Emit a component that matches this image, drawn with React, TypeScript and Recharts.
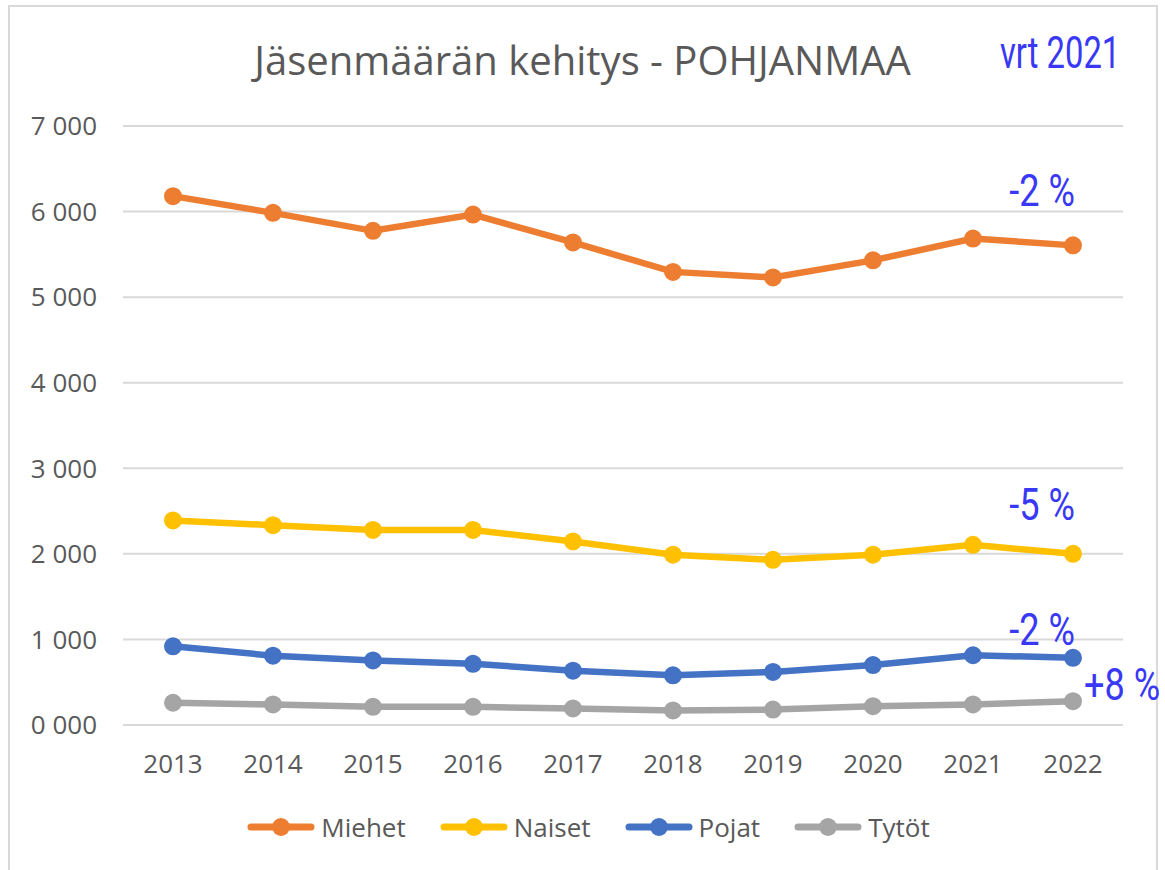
import React from "react";
import { LineChart, Line, XAxis, YAxis, CartesianGrid, Legend, LabelList } from "recharts";

const YEARS = ["2013", "2014", "2015", "2016", "2017", "2018", "2019", "2020", "2021", "2022"];
const MIEHET = [6180, 5985, 5775, 5965, 5640, 5295, 5230, 5430, 5685, 5605];
const NAISET = [2390, 2335, 2280, 2280, 2145, 1990, 1930, 1990, 2105, 2000];
const POJAT = [920, 810, 755, 715, 635, 580, 620, 700, 815, 785];
const TYTOT = [260, 240, 212, 212, 193, 170, 180, 220, 240, 278];
const Y_TICKS = [0, 1000, 2000, 3000, 4000, 5000, 6000, 7000];
const CHANGES = ["-2 %", "-5 %", "-2 %", "+8 %"];

const SERIES = [
  { key: "miehet", name: "Miehet", color: "#ED7D31", values: MIEHET, change: CHANGES[0], dx: -31, dy: -39 },
  { key: "naiset", name: "Naiset", color: "#FFC000", values: NAISET, change: CHANGES[1], dx: -31, dy: -34 },
  { key: "pojat", name: "Pojat", color: "#4472C4", values: POJAT, change: CHANGES[2], dx: -31, dy: -13 },
  { key: "tytot", name: "Tytöt", color: "#A5A5A5", values: TYTOT, change: CHANGES[3], dx: 49, dy: -1 },
];

const data = YEARS.map((year, i) => {
  const row: Record<string, string | number> = { year };
  SERIES.forEach((s) => {
    row[s.key] = s.values[i];
  });
  return row;
});

const TEXT = "#595959";
const BLUE = "#3838F5";
const FONT = "'Open Sans', sans-serif";

const formatThousands = (v: number) =>
  `${Math.floor(v / 1000)} ${String(v % 1000).padStart(3, "0")}`;

function ChangeLabel(props: any) {
  const { x, y, index, text, dx, dy } = props;
  if (index !== YEARS.length - 1) return null;
  return (
    <text
      transform={`translate(${x + dx},${y + dy}) scale(0.86,1.05)`}
      textAnchor="middle"
      fill={BLUE}
      fontFamily="Roboto, sans-serif"
      fontSize={42}
    >
      {text}
    </text>
  );
}

function LegendContent() {
  return (
    <div style={{ display: "flex", justifyContent: "center", alignItems: "center", gap: 34, paddingLeft: 12 }}>
      {SERIES.map((s) => (
        <div key={s.key} style={{ display: "flex", alignItems: "center" }}>
          <svg width={68} height={22} style={{ marginRight: 6 }}>
            <line x1={4} y1={11} x2={64} y2={11} stroke={s.color} strokeWidth={7} strokeLinecap="round" />
            <circle cx={34} cy={11} r={9} fill={s.color} />
          </svg>
          <span style={{ fontFamily: FONT, fontSize: 26, color: TEXT }}>{s.name}</span>
        </div>
      ))}
    </div>
  );
}

export default function App() {
  return (
    <div style={{ position: "absolute", left: 0, top: 0, width: 1165, height: 870, background: "#fff", overflow: "hidden" }}>
      <div
        style={{
          position: "absolute",
          left: 8,
          top: 5,
          width: 1150,
          height: 900,
          border: "2px solid #d9d9d9",
          boxSizing: "border-box",
        }}
      />
      <div
        style={{
          position: "absolute",
          top: 32,
          left: 0,
          width: 1165,
          textAlign: "center",
          fontFamily: FONT,
          fontSize: 40,
          color: TEXT,
          lineHeight: "56px",
          paddingRight: 2,
        }}
      >
        Jäsenmäärän kehitys - POHJANMAA
      </div>
      <div
        style={{
          position: "absolute",
          top: 27,
          left: 1000,
          fontFamily: "Roboto, sans-serif",
          fontSize: 42,
          color: BLUE,
          lineHeight: "50px",
          transform: "scale(0.78,1.05)",
          transformOrigin: "left top",
          whiteSpace: "nowrap",
        }}
      >
        vrt 2021
      </div>
      <div style={{ position: "absolute", left: 0, top: 0 }}>
        <LineChart width={1165} height={870} data={data} margin={{ top: 126, right: 42, bottom: 115, left: 0 }}>
          <CartesianGrid vertical={false} stroke="#d9d9d9" strokeWidth={2} />
          <XAxis
            dataKey="year"
            height={30}
            axisLine={false}
            tickLine={false}
            tickSize={0}
            tickMargin={30}
            padding={{ left: 50, right: 50 }}
            tick={{ fill: TEXT, fontSize: 26, fontFamily: FONT }}
            interval={0}
          />
          <YAxis
            width={123}
            domain={[0, 7000]}
            ticks={Y_TICKS}
            axisLine={false}
            tickLine={false}
            tickSize={0}
            tickMargin={26}
            tickFormatter={formatThousands}
            tick={{ fill: TEXT, fontSize: 26, fontFamily: FONT }}
          />
          <Legend
            verticalAlign="middle"
            align="center"
            content={<LegendContent />}
            wrapperStyle={{ top: 809, left: 0, width: 1165 }}
          />
          {SERIES.map((s) => (
            <Line
              key={s.key}
              dataKey={s.key}
              name={s.name}
              stroke={s.color}
              strokeWidth={6.5}
              dot={{ r: 8, fill: s.color, stroke: s.color, strokeWidth: 2 }}
              activeDot={false}
              isAnimationActive={false}
            >
              <LabelList
                dataKey={s.key}
                content={(p: any) => <ChangeLabel {...p} text={s.change} dx={s.dx} dy={s.dy} />}
              />
            </Line>
          ))}
        </LineChart>
      </div>
    </div>
  );
}
